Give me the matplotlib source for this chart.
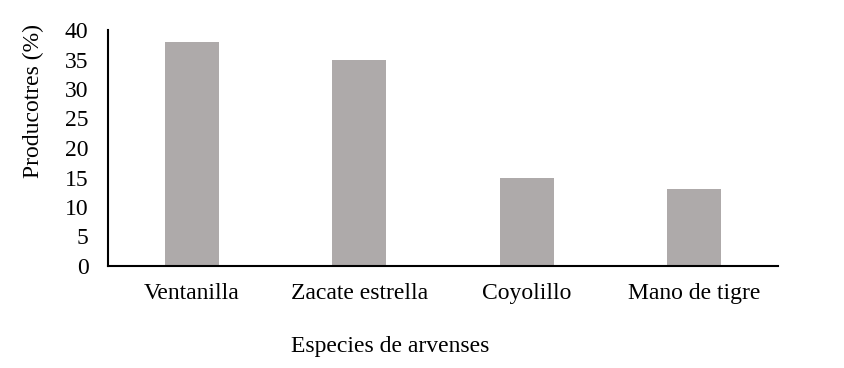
import numpy as np
import matplotlib
matplotlib.use('Agg')
import matplotlib.pyplot as plt

# Datos
especies = ['Ventanilla', 'Zacate estrella', 'Coyolillo', 'Mano de tigre']
productores = [38, 35, 15, 13]
ticks_y = [0, 5, 10, 15, 20, 25, 30, 35, 40]

plt.rcParams['font.family'] = ['Liberation Serif', 'DejaVu Serif']

fig = plt.figure(figsize=(8.45, 3.68), dpi=100)
ax = fig.add_axes([108 / 845, 1 - 266 / 368, 670 / 845, 236 / 368])

x = np.arange(len(especies))
ax.bar(x, productores, width=0.32, color='#AEAAAA')

ax.set_xlim(-0.5, len(especies) - 0.5)
ax.set_ylim(0, 40)
ax.set_yticks(ticks_y)
ax.set_xticks(x)
ax.set_xticklabels(especies)
ax.tick_params(axis='both', length=0, labelsize=17)
ax.tick_params(axis='y', pad=14)
ax.tick_params(axis='x', pad=12)

for s in ['top', 'right']:
    ax.spines[s].set_visible(False)
for s in ['left', 'bottom']:
    ax.spines[s].set_linewidth(1.5)
    ax.spines[s].set_color('black')

ax.set_xlabel('Especies de arvenses', fontsize=17, va='center')
ax.xaxis.set_label_coords(0.421, -0.339)
ax.set_ylabel('Producotres (%)', fontsize=17, va='center')
ax.yaxis.set_label_coords(-0.112, 0.699)

fig.savefig('out.png', dpi=100)
